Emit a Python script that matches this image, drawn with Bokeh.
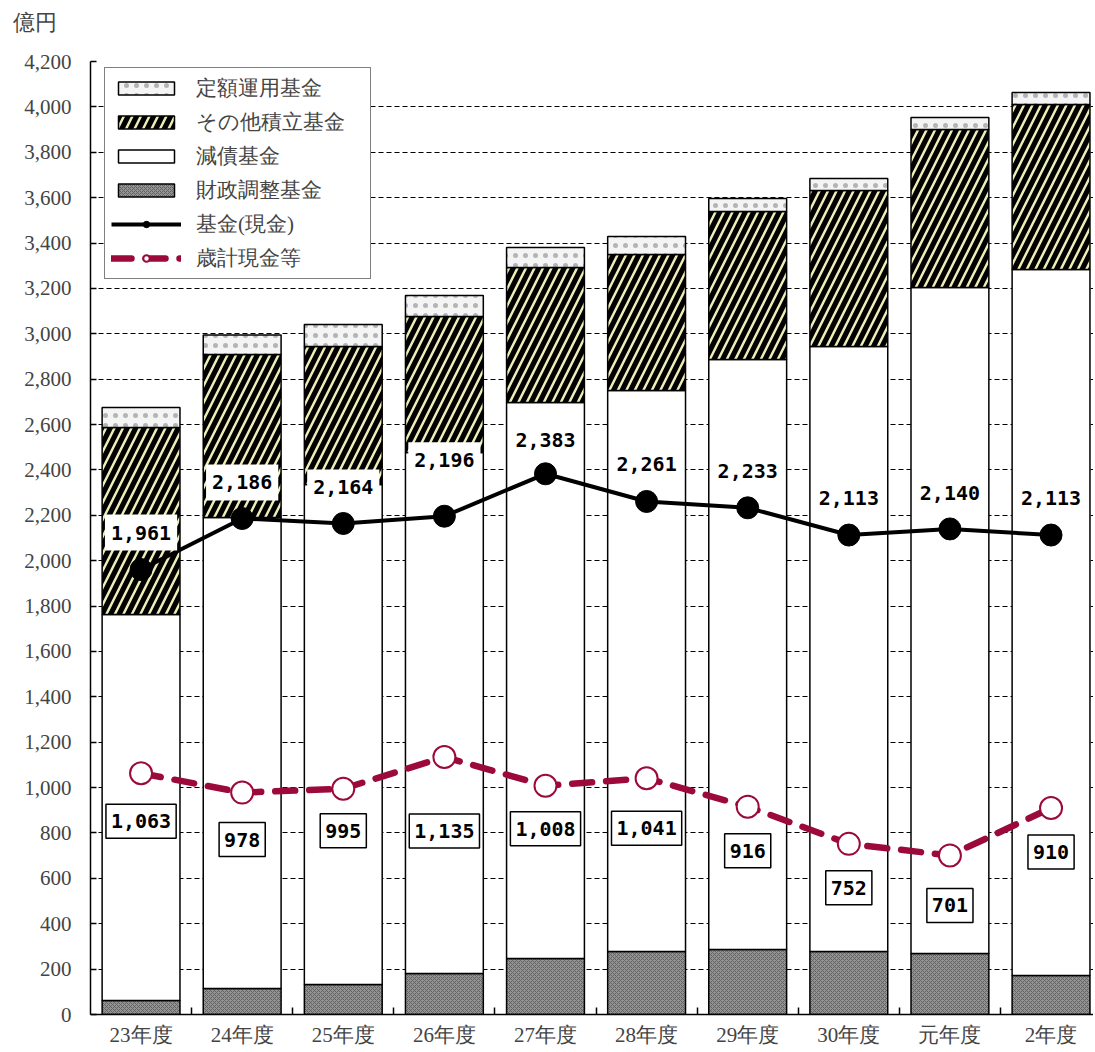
from bokeh.plotting import figure
from bokeh.models import ColumnDataSource, FixedTicker, Legend, LegendItem, CustomJSTickFormatter
from bokeh.core.properties import value
from bokeh.embed import file_html
from bokeh.resources import INLINE

# ---- data ----
categories = ["23年度", "24年度", "25年度", "26年度", "27年度", "28年度", "29年度", "30年度", "元年度", "2年度"]
zaisei = [62, 115, 132, 181, 247, 278, 286, 278, 269, 172]          # 財政調整基金
gensai = [1701, 2075, 2204, 2296, 2450, 2472, 2601, 2666, 2935, 3111]  # 減債基金
sonota = [824, 719, 608, 599, 595, 599, 652, 688, 696, 728]        # その他積立基金
teigaku = [88, 86, 97, 93, 88, 80, 57, 52, 53, 52]                 # 定額運用基金
kikin_cash = [1961, 2186, 2164, 2196, 2383, 2261, 2233, 2113, 2140, 2113]  # 基金(現金)
saikei = [1063, 978, 995, 1135, 1008, 1041, 916, 752, 701, 910]           # 歳計現金等
y_ticks = list(range(0, 4201, 200))
unit_label = "億円"

# label pixel offsets (layout only)
up_off = [37, 36, 36, 56, 34, 37, 37, 37, 36, 37]
down_off = [48, 47, 42, 74, 43, 50, 44, 44, 50, 44]

xs = list(range(len(categories)))
src = ColumnDataSource(dict(
    x=xs, zaisei=zaisei, gensai=gensai, sonota=sonota, teigaku=teigaku,
    kikin=kikin_cash, saikei=saikei,
    kikin_lbl=[f"{v:,}" for v in kikin_cash],
    saikei_lbl=[f"{v:,}" for v in saikei],
    up_off=[-o for o in up_off], down_off=[o for o in down_off],
))

SERIF = "Liberation Serif"

p = figure(width=1093, height=1050, output_backend="svg", toolbar_location=None,
           x_range=(-0.5, 9.42), y_range=(0, 4200),
           min_border_left=90, min_border_right=0, min_border_top=61, min_border_bottom=36)
p.outline_line_color = None
p.background_fill_color = "white"

# ---- bars ----
stackers = ["zaisei", "gensai", "sonota", "teigaku"]
rs = p.vbar_stack(stackers, x="x", width=0.77, source=src,
                  fill_color=["#939393", "white", "black", "#F4F4F4"],
                  hatch_pattern=["diagonal_cross", "blank", "right_diagonal_line", "dot"],
                  hatch_color=["#626262", "white", "#EDEDB8", "#555555"],
                  hatch_alpha=[1, 1, 1, 0.4],
                  hatch_scale=[4, 10, 17, 10],
                  hatch_weight=[1, 1, 2.5, 1],
                  line_color="black", line_width=1.5)

# ---- lines ----
r_k_line = p.line("x", "kikin", source=src, line_color="black", line_width=4)
r_k_pt = p.scatter("x", "kikin", source=src, size=22, marker="circle",
                   fill_color="black", line_color="black")
r_s_line = p.line("x", "saikei", source=src, line_color="#9B0A3B", line_width=6.5,
                  line_dash="20 14", line_cap="round")
r_s_pt = p.scatter("x", "saikei", source=src, size=22, marker="circle",
                   fill_color="white", line_color="#9B0A3B", line_width=2)

# ---- labels ----
p.text("x", "kikin", text="kikin_lbl", source=src, y_offset="up_off",
       text_align="center", text_baseline="middle",
       text_font=value("DejaVu Sans Mono"), text_font_style="bold",
       text_font_size="20px", text_color="black",
       background_fill_color="white", padding=(6, 11))
p.text("x", "saikei", text="saikei_lbl", source=src, y_offset="down_off",
       text_align="center", text_baseline="middle",
       text_font=value("DejaVu Sans Mono"), text_font_style="bold",
       text_font_size="20px", text_color="black",
       background_fill_color="white", border_line_color="black",
       border_line_width=1.5, padding=(5, 10))

# ---- axes ----
p.yaxis.ticker = FixedTicker(ticks=y_ticks)
p.yaxis.formatter = CustomJSTickFormatter(code="return tick.toLocaleString('en-US');")
p.yaxis.major_tick_in = 6
p.yaxis.major_tick_out = 0
p.yaxis.minor_tick_line_color = None
p.yaxis.axis_line_width = 1.5
p.yaxis.major_tick_line_width = 1.5
p.yaxis.major_label_text_font = SERIF
p.yaxis.major_label_text_font_size = "21px"
p.yaxis.major_label_standoff = 19

p.xaxis.ticker = FixedTicker(ticks=xs, minor_ticks=[i + 0.5 for i in xs])
p.xaxis.major_label_overrides = {i: c for i, c in enumerate(categories)}
p.xaxis.major_tick_in = 0
p.xaxis.major_tick_out = 0
p.xaxis.minor_tick_in = 7
p.xaxis.minor_tick_out = 0
p.xaxis.minor_tick_line_width = 1.5
p.xaxis.axis_line_width = 1.5
p.xaxis.major_label_text_font = SERIF
p.xaxis.major_label_text_font_size = "21px"
p.xaxis.major_label_standoff = 8

p.xgrid.grid_line_color = None
p.ygrid.ticker = FixedTicker(ticks=y_ticks[1:])
p.ygrid.grid_line_color = "black"
p.ygrid.grid_line_dash = "5 3"
p.ygrid.grid_line_width = 1

# ---- unit title (second blank line lifts it to the top of the page) ----
p.title.text = unit_label + "\n "
p.title.text_font = SERIF
p.title.text_font_size = "22px"
p.title.text_font_style = "normal"
p.title.align = "left"
p.title.offset = -78
p.title.standoff = 4

# ---- legend ----
legend = Legend(items=[
    LegendItem(label="定額運用基金", renderers=[rs[3]]),
    LegendItem(label="その他積立基金", renderers=[rs[2]]),
    LegendItem(label="減債基金", renderers=[rs[1]]),
    LegendItem(label="財政調整基金", renderers=[rs[0]]),
    LegendItem(label="基金(現金)", renderers=[r_k_line, r_k_pt]),
    LegendItem(label="歳計現金等", renderers=[r_s_line, r_s_pt]),
], location=(14, 735))
legend.margin = 0
legend.padding = 6
legend.spacing = 6
legend.glyph_width = 70
legend.glyph_height = 16
legend.label_text_font = SERIF
legend.label_text_font_size = "21px"
legend.label_standoff = 15
legend.label_width = 168
legend.border_line_color = "black"
legend.border_line_width = 1.5
legend.background_fill_alpha = 1
p.add_layout(legend, "center")

open("out.html", "w").write(file_html(p, INLINE))
